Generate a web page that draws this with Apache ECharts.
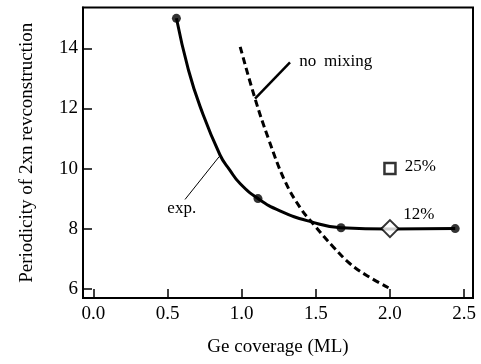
<!DOCTYPE html>
<html>
<head>
<meta charset="utf-8">
<script src="https://cdn.jsdelivr.net/npm/echarts@6/dist/echarts.min.js"></script>
<style>html,body{margin:0;padding:0;background:#fff}#c{width:481px;height:364px}</style>
</head>
<body>
<div id="c"></div>
<script>
// ---- data ----
const xTicks = [0.0, 0.5, 1.0, 1.5, 2.0, 2.5];
const yTicks = [6, 8, 10, 12, 14];
// experimental points
const expPoints = [[0.56, 15.0], [1.11, 9.0], [1.67, 8.03], [2.44, 8.0]];
// fitted (exp.) curve
const expCurve = [[0.56, 15.0], [0.64, 13.3], [0.72, 12.06], [0.854, 10.45], [0.92, 9.95], [0.989, 9.5], [1.11, 9.0],
  [1.258, 8.59], [1.46, 8.24], [1.67, 8.03], [2.0, 7.99], [2.44, 8.0]];
// "no mixing" model curve
const noMixCurve = [[0.99, 14.05], [1.09, 12.33], [1.18, 11.0], [1.29, 9.6], [1.394, 8.7], [1.483, 8.15],
  [1.618, 7.39], [1.731, 6.83], [1.843, 6.44], [1.99, 6.03]];
const point12 = [[2.0, 8.0]];
const point25 = [[2.0, 10.0]];
const noMixPointer = [[1.09, 12.33], [1.326, 13.53]];
const expPointer = [[0.849, 10.4], [0.618, 8.97]];
const notes = [
  { text: 'no', x: 1.389, y: 13.55, align: 'left' },
  { text: 'mixing', x: 1.556, y: 13.55, align: 'left' },
  { text: 'exp.', x: 0.596, y: 8.67, align: 'center' },
  { text: '25%', x: 2.10, y: 10.05, align: 'left' },
  { text: '12%', x: 2.09, y: 8.48, align: 'left' }
];

const FONT = "'Liberation Serif', 'Times New Roman', serif";
const chart = echarts.init(document.getElementById('c'), null, { renderer: 'canvas' });
const option = {
  animation: false,
  backgroundColor: '#fff',
  grid: { left: 83, right: 8, top: 7.5, bottom: 66, show: true, borderColor: '#000', borderWidth: 2, backgroundColor: 'transparent' },
  xAxis: {
    type: 'value', min: -0.07, max: 2.56,
    name: 'Ge coverage (ML)', nameLocation: 'middle', nameGap: 40,
    nameTextStyle: { fontFamily: FONT, fontSize: 19, color: '#000' },
    axisLine: { onZero: false, lineStyle: { color: '#000', width: 2 } },
    axisTick: { inside: true, length: 9, lineStyle: { color: '#000', width: 1.5 }, customValues: xTicks },
    axisLabel: { fontFamily: FONT, fontSize: 19, color: '#000', margin: 7, customValues: xTicks,
      formatter: v => v.toFixed(1) },
    splitLine: { show: false }
  },
  yAxis: {
    type: 'value', min: 5.69, max: 15.36,
    name: 'Periodicity of 2xn revconstruction', nameLocation: 'middle', nameGap: 46,
    nameTextStyle: { fontFamily: FONT, fontSize: 19, color: '#000' },
    axisLine: { onZero: false, lineStyle: { color: '#000', width: 2 } },
    axisTick: { inside: true, length: 9, lineStyle: { color: '#000', width: 1.5 }, customValues: yTicks },
    axisLabel: { fontFamily: FONT, fontSize: 19, color: '#000', margin: 5, customValues: yTicks },
    splitLine: { show: false }
  },
  series: [
    { type: 'line', data: expCurve, smooth: 0.5, showSymbol: false, symbol: 'none',
      lineStyle: { color: '#000', width: 3 }, z: 3 },
    { type: 'line', data: noMixCurve, smooth: 0.4, showSymbol: false, symbol: 'none',
      lineStyle: { color: '#000', width: 3, type: [7, 4] }, z: 3 },
    { type: 'line', data: noMixPointer, showSymbol: false, symbol: 'none',
      lineStyle: { color: '#000', width: 2.5 }, z: 3 },
    { type: 'line', data: expPointer, showSymbol: false, symbol: 'none',
      lineStyle: { color: '#000', width: 1 }, z: 3 },
    { type: 'scatter', data: expPoints, symbol: 'circle', symbolSize: 9,
      itemStyle: { color: '#000' }, z: 5 },
    { type: 'scatter', data: point12, symbol: 'diamond', symbolSize: 17,
      itemStyle: { color: '#fff', borderColor: '#000', borderWidth: 2 }, z: 6 },
    { type: 'scatter', data: point25, symbol: 'rect', symbolSize: 11,
      itemStyle: { color: '#fff', borderColor: '#000', borderWidth: 2.5 }, z: 6 }
  ]
};
chart.setOption(option);
const graphics = notes.map(n => {
  const p = chart.convertToPixel({ gridIndex: 0 }, [n.x, n.y]);
  return { type: 'text', x: p[0], y: p[1], z: 10,
    style: { text: n.text, fontFamily: FONT, fontSize: 17, fill: '#000', align: n.align, verticalAlign: 'middle' } };
});
chart.setOption({ graphic: graphics });
</script>
</body>
</html>
